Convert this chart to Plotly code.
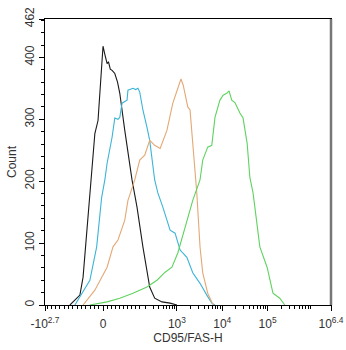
import plotly.graph_objects as go
import numpy as np

# x values are in display (biexponential, decade-like) axis units
black_x = [0.64, 0.86, 0.93, 1.10, 1.19, 1.26, 1.33, 1.37, 1.41, 1.46, 1.49, 1.53, 1.57, 1.63, 1.69, 1.74, 1.85, 1.92, 2.01, 2.12, 2.25, 2.40, 2.51, 2.67, 2.85, 3.00]
black_y = [0, 16, 45, 202, 277, 298, 380, 418, 405, 390, 393, 381, 379, 374, 360, 342, 282, 245, 202, 158, 94, 29, 11, 5, 3, 0]

cyan_x = [0.75, 1.08, 1.23, 1.34, 1.41, 1.46, 1.57, 1.63, 1.70, 1.74, 1.79, 1.85, 1.90, 1.92, 2.03, 2.09, 2.14, 2.18, 2.25, 2.34, 2.40, 2.51, 2.58, 2.69, 2.85, 2.96, 3.07, 3.13, 3.22, 3.35, 3.51, 3.66, 3.77, 3.84]
cyan_y = [0, 40, 94, 174, 202, 229, 271, 302, 300, 303, 326, 328, 331, 347, 350, 348, 350, 344, 315, 287, 266, 202, 181, 158, 121, 116, 89, 84, 77, 52, 35, 16, 3, 0]

orange_x = [0.93, 1.19, 1.46, 1.59, 1.70, 1.85, 1.92, 2.07, 2.18, 2.29, 2.40, 2.51, 2.63, 2.78, 2.91, 3.02, 3.09, 3.14, 3.18, 3.24, 3.29, 3.35, 3.44, 3.51, 3.57, 3.68, 3.80]
orange_y = [0, 24, 61, 94, 105, 137, 169, 202, 234, 242, 266, 258, 253, 282, 326, 352, 365, 355, 342, 320, 315, 261, 180, 94, 52, 19, 0]

green_x = [1.08, 1.46, 1.74, 2.03, 2.34, 2.56, 2.74, 2.89, 3.02, 3.11, 3.24, 3.35, 3.51, 3.57, 3.68, 3.77, 3.84, 3.95, 4.02, 4.10, 4.15, 4.21, 4.28, 4.33, 4.39, 4.46, 4.55, 4.61, 4.68, 4.72, 4.83, 4.99, 5.12, 5.27, 5.38]
green_y = [0, 5, 11, 19, 29, 40, 53, 61, 84, 108, 142, 169, 202, 234, 255, 258, 303, 331, 339, 342, 346, 331, 327, 319, 310, 302, 261, 206, 181, 158, 94, 61, 19, 11, 0]

x_tickvals = [0.09, 1.37, 3, 4, 5, 6.4]
x_ticktext = ["-10<sup>2.7</sup>", "0", "10<sup>3</sup>", "10<sup>4</sup>", "10<sup>5</sup>", "10<sup>6.4</sup>"]
y_tickvals = [0, 100, 200, 300, 400, 462]

series = [
    (black_x, black_y, "#1a1a1a"),
    (cyan_x, cyan_y, "#3cb4d8"),
    (orange_x, orange_y, "#e4a875"),
    (green_x, green_y, "#5fd35f"),
]

fig = go.Figure()
for xs, ys, c in series:
    fig.add_trace(go.Scatter(x=xs, y=ys, mode="lines", line=dict(color=c, width=1.1), showlegend=False))

minor_x = []
for k in range(1, 14):
    v = 1.37 - k * 0.095
    if v > 0.1:
        minor_x.append(v)
for k in range(1, 10):
    minor_x.append(1.37 + k * 0.09)
for n in [2, 3, 4, 5]:
    for k in range(2, 10):
        v = n + np.log10(k)
        if 2.3 < v < 6.4:
            minor_x.append(v)

fig.update_layout(
    width=346, height=350,
    margin=dict(l=45, r=15, t=19, b=45, autoexpand=False),
    paper_bgcolor="white", plot_bgcolor="white",
    font=dict(family="Liberation Sans, Arial", size=12, color="#333"),
    xaxis=dict(
        range=[0.09, 6.4], tickmode="array", tickvals=x_tickvals, ticktext=x_ticktext,
        showgrid=False, zeroline=False, showline=True, linecolor="black", linewidth=1, mirror=True,
        ticks="outside", ticklen=5, tickcolor="black", automargin=False, ticklabelstandoff=3,
        minor=dict(tickmode="array", tickvals=minor_x, ticks="outside", ticklen=3, tickcolor="black"),
        title=dict(text="CD95/FAS-H", font=dict(size=12, color="#333"), standoff=2),
        tickfont=dict(size=12, color="#333"),
    ),
    yaxis=dict(
        range=[0, 462], tickmode="array", tickvals=y_tickvals,
        showgrid=False, zeroline=False, showline=True, linecolor="black", linewidth=1, mirror=True,
        ticks="outside", ticklen=5, tickcolor="black", tickangle=-90, automargin=False,
        minor=dict(dtick=20, ticks="outside", ticklen=3, tickcolor="black"),
        title=dict(text="Count", font=dict(size=12, color="#333"), standoff=4),
        tickfont=dict(size=12, color="#333"),
    ),
)
fig.add_shape(type="line", xref="paper", yref="paper", x0=1.0, x1=1.0, y0=0, y1=1,
              line=dict(color="#777", width=2.5))

fig.write_html("out.html")
